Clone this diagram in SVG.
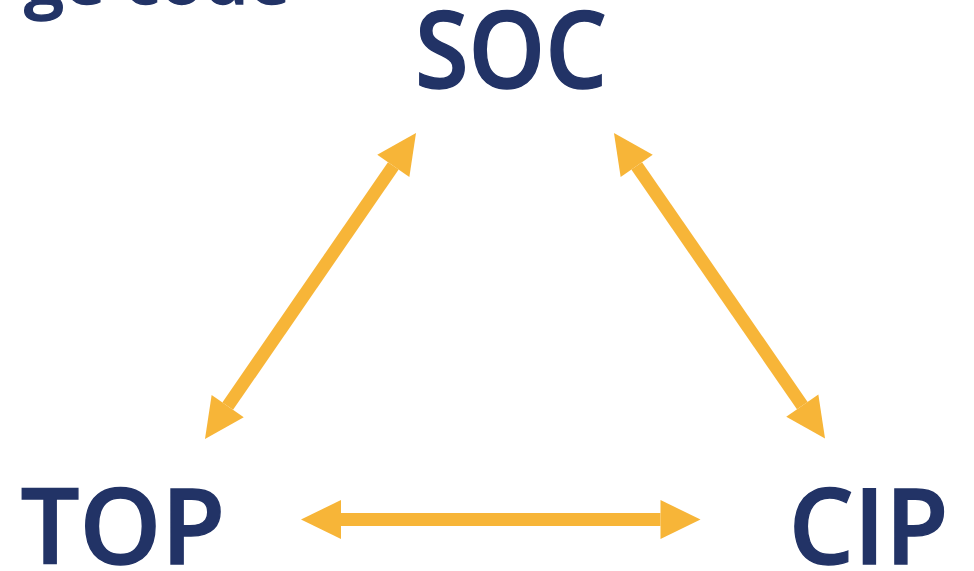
<svg xmlns="http://www.w3.org/2000/svg" width="974" height="571" viewBox="0 0 974 571">
  <style>
    .label { font-family: "Open Sans", "Liberation Sans", sans-serif; font-weight: 600; fill: #223366; stroke: #223366; stroke-width: 1.4; }
    .node { font-size: 106px; text-anchor: middle; }
    .title { font-size: 72px; text-anchor: end; }
    .link { stroke: #F7B538; stroke-width: 13; fill: none; marker-start: url(#head); marker-end: url(#head); }
  </style>
  <defs>
    <marker id="head" markerUnits="userSpaceOnUse" markerWidth="42" markerHeight="42" viewBox="0 -21 42 42" refX="0" refY="0" orient="auto-start-reverse" overflow="visible">
      <path d="M0,-19.5 L40,0 L0,19.5 Z" fill="#F7B538"/>
    </marker>
  </defs>

  <rect width="974" height="571" fill="#ffffff"/>

  <!-- heading, clipped by the top edge -->
  <text class="label title" x="290" y="4">ge code</text>

  <g id="node-soc" transform="translate(511 88) scale(0.92 1)"><text class="label node" x="0" y="0">SOC</text></g>
  <g id="node-top" transform="translate(123 564) scale(0.98 1)"><text class="label node" x="0" y="0">TOP</text></g>
  <g id="node-cip" transform="translate(868.5 564) scale(0.97 1)"><text class="label node" x="0" y="0">CIP</text></g>

  <g id="connectors">
    <line class="link" x1="393.3" y1="165.9" x2="227.7" y2="406.1"/>
    <line class="link" x1="636.7" y1="165.9" x2="802.3" y2="405.6"/>
    <line class="link" x1="341" y1="519.5" x2="660.5" y2="519.5"/>
  </g>
</svg>
